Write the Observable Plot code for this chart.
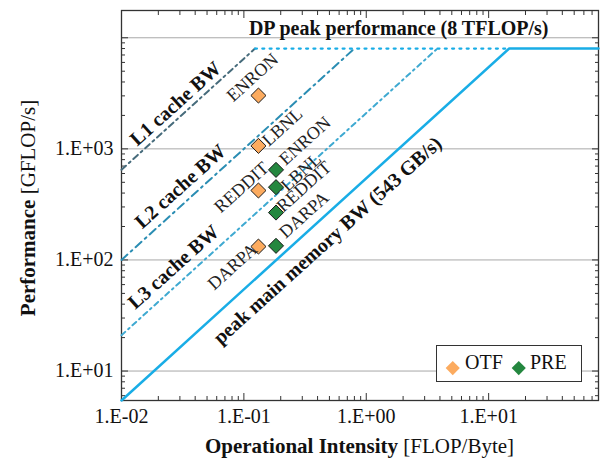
<!DOCTYPE html>
<html><head><meta charset="utf-8">
<script src="https://cdn.jsdelivr.net/npm/d3@7"></script>
<script src="https://cdn.jsdelivr.net/npm/@observablehq/plot@0.6"></script>
<style>
body{margin:0;background:#fff;}
#chart{position:relative;width:608px;height:466px;font-family:"Liberation Serif",serif;}
#legend{position:absolute;left:436px;top:345px;width:146px;height:37px;border:1.3px solid #333;box-sizing:border-box;background:#fff;font-size:20px;color:#111;}
#legend span{position:absolute;}
.dia{width:9.5px;height:9.5px;transform:rotate(45deg);}
</style></head>
<body><div id="chart"></div>
<script>
// ---- data ----
const workloads = ["ENRON", "LBNL", "REDDIT", "DARPA"];
const otfIntensity = [0.1315, 0.1315, 0.1315, 0.1315];
const otfPerf = [3020, 1064, 422, 132];
const preIntensity = [0.183, 0.183, 0.183, 0.183];
const prePerf = [647, 452, 267, 134];
const seriesNames = ["OTF", "PRE"];
const peakGflops = 8000;           // DP peak (8 TFLOP/s)
const memBW = 543;                 // GB/s
const cacheNames = ["L1 cache BW", "L2 cache BW", "L3 cache BW"];
const cacheBW = [64900, 10000, 2100];
const xTicks = [0.01, 0.1, 1, 10];
const xTickLabels = ["1.E-02", "1.E-01", "1.E+00", "1.E+01"];
const yTicks = [10, 100, 1000];
const yTickLabels = ["1.E+01", "1.E+02", "1.E+03"];
const yGrid = [10, 100, 1000, 10000];
const memLabel = "peak main memory BW (543 GB/s)";
const peakLabel = "DP peak performance (8 TFLOP/s)";

// ---- layout ----
const xDomain = [0.01, 79];
const yDomain = [5.43, 17600];
const colors = {OTF: "#fcab5f", PRE: "#24873f"};
const cacheColors = ["#466b7b", "#2a8db3", "#3ea9d1"];
const cacheDash = ["6,4,2,4", "8,4.5,2,4.5", "5,4,1.8,4"];
const memColor = "#19ade6";
const cacheLabelAt = [0.0276, 0.0303, 0.0266];
const cacheLabelDy = [-17, -20, -21];
const memLabelAt = 0.482, memLabelDy = 27;
const labelOffsets = {
  OTF: [[-6, -18], [24, -19], [-17, -3], [-26, 20]],
  PRE: [[29, -29], [25, -15], [28, -26], [28, -31]]
};
const ANG = -42;

// minor ticks
const xMinor = [], yMinor = [];
for (let e = -2; e <= 1; e++) for (let m = 2; m <= 9; m++) { const v = m * Math.pow(10, e); if (v <= xDomain[1]) xMinor.push(v); }
for (let e = 0; e <= 4; e++) for (let m = 2; m <= 9; m++) { const v = m * Math.pow(10, e); if (v >= yDomain[0] && v <= yDomain[1]) yMinor.push(v); }

const ridgeMem = peakGflops / memBW;
const memRoof = [
  {x: xDomain[0], y: memBW * xDomain[0]},
  {x: ridgeMem, y: peakGflops},
  {x: xDomain[1], y: peakGflops}
];
const cacheLines = cacheBW.map((bw, i) => [
  {x: xDomain[0], y: bw * xDomain[0], name: cacheNames[i]},
  {x: peakGflops / bw, y: peakGflops, name: cacheNames[i]}
]);
const peakDotted = [{x: peakGflops / cacheBW[0], y: peakGflops}, {x: ridgeMem, y: peakGflops}];

const points = [];
workloads.forEach((w, i) => {
  points.push({series: "OTF", w, i, x: otfIntensity[i], y: otfPerf[i]});
  points.push({series: "PRE", w, i, x: preIntensity[i], y: prePerf[i]});
});

const tickStroke = "#333";
const marks = [
  Plot.ruleY(yGrid, {stroke: "#a8a8a8", strokeWidth: 1}),
  // ticks (inward)
  Plot.axisX(xTicks, {anchor: "bottom", tickSize: -7, text: null, label: null, stroke: tickStroke}),
  Plot.axisX(xMinor, {anchor: "bottom", tickSize: -4, text: null, label: null, stroke: tickStroke}),
  Plot.axisX(xTicks, {anchor: "top", tickSize: -7, text: null, label: null, stroke: tickStroke}),
  Plot.axisX(xMinor, {anchor: "top", tickSize: -4, text: null, label: null, stroke: tickStroke}),
  Plot.axisY(yGrid, {anchor: "left", tickSize: -7, text: null, label: null, stroke: tickStroke}),
  Plot.axisY(yMinor, {anchor: "left", tickSize: -4, text: null, label: null, stroke: tickStroke}),
  Plot.axisY(yGrid, {anchor: "right", tickSize: -7, text: null, label: null, stroke: tickStroke}),
  Plot.axisY(yMinor, {anchor: "right", tickSize: -4, text: null, label: null, stroke: tickStroke}),
  // tick labels
  Plot.axisX(xTicks, {anchor: "bottom", tickSize: 0, tickPadding: 8, label: null, fontSize: 20, fill: "#111",
    tickFormat: d => xTickLabels[xTicks.indexOf(d)]}),
  Plot.axisY(yTicks, {anchor: "left", tickSize: 0, tickPadding: 8, label: null, fontSize: 20, fill: "#111",
    tickFormat: d => yTickLabels[yTicks.indexOf(d)]}),
  Plot.frame({stroke: "#333", strokeWidth: 1.3}),
  // rooflines
  ...cacheLines.map((d, i) => Plot.line(d, {x: "x", y: "y", stroke: cacheColors[i], strokeWidth: 2, strokeDasharray: cacheDash[i]})),
  Plot.line(peakDotted, {x: "x", y: "y", stroke: memColor, strokeWidth: 2.2, strokeDasharray: "2,5.3"}),
  Plot.line(memRoof, {x: "x", y: "y", stroke: memColor, strokeWidth: 2.5}),
  // roof labels
  ...cacheNames.map((n, i) => Plot.text([{x: cacheLabelAt[i], y: cacheLabelAt[i] * cacheBW[i], t: n}],
    {x: "x", y: "y", text: "t", rotate: ANG, dy: cacheLabelDy[i], fontSize: 20, fontWeight: "bold", fill: "#111", lineAnchor: "middle"})),
  Plot.text([{x: memLabelAt, y: memLabelAt * memBW, t: memLabel}],
    {x: "x", y: "y", text: "t", rotate: ANG, dy: memLabelDy, fontSize: 20, fontWeight: "bold", fill: "#111", lineAnchor: "middle"}),
  Plot.text([peakLabel], {frameAnchor: "top-right", text: d => d, dx: -50, dy: 18.5, textAnchor: "end", lineAnchor: "middle",
    fontSize: 20, fontWeight: "bold", fill: "#111"}),
  // points
  ...seriesNames.map(s => Plot.dot(points.filter(p => p.series === s),
    {x: "x", y: "y", symbol: "diamond2", r: 6.8, fill: colors[s], stroke: "#1a1a1a", strokeWidth: 1})),
  // point labels
  ...points.map(p => Plot.text([p], {x: "x", y: "y", text: "w", rotate: ANG, fontSize: 18, fill: "#222",
    textAnchor: "middle", lineAnchor: "middle", dx: labelOffsets[p.series][p.i][0], dy: labelOffsets[p.series][p.i][1]}))
];

const svg = Plot.plot({
  width: 608, height: 466,
  marginLeft: 121, marginRight: 10, marginTop: 10, marginBottom: 66,
  style: {fontFamily: "Liberation Serif", background: "#fff", overflow: "visible"},
  x: {type: "log", domain: xDomain, axis: null},
  y: {type: "log", domain: yDomain, axis: null},
  marks
});

const sel = d3.select(svg);
const xt = sel.append("text").attr("x", 359.5).attr("y", 453).attr("text-anchor", "middle")
  .attr("font-size", 21).attr("fill", "#111").attr("font-family", "Liberation Serif");
xt.append("tspan").attr("font-weight", "bold").text("Operational Intensity");
xt.append("tspan").text(" [FLOP/Byte]");
const yt = sel.append("text").attr("transform", "translate(35,208) rotate(-90)").attr("text-anchor", "middle")
  .attr("font-size", 21).attr("fill", "#111").attr("font-family", "Liberation Serif");
yt.append("tspan").attr("font-weight", "bold").text("Performance");
yt.append("tspan").text(" [GFLOP/s]");

const chart = document.getElementById("chart");
chart.appendChild(svg);
const legend = document.createElement("div");
legend.id = "legend";
legend.innerHTML =
  `<span class="dia" style="left:11px;top:17px;background:${colors.OTF}"></span>` +
  `<span style="left:28px;top:5px">${seriesNames[0]}</span>` +
  `<span class="dia" style="left:77px;top:17px;background:${colors.PRE}"></span>` +
  `<span style="left:93px;top:5px">${seriesNames[1]}</span>`;
chart.appendChild(legend);
</script>
</body></html>
